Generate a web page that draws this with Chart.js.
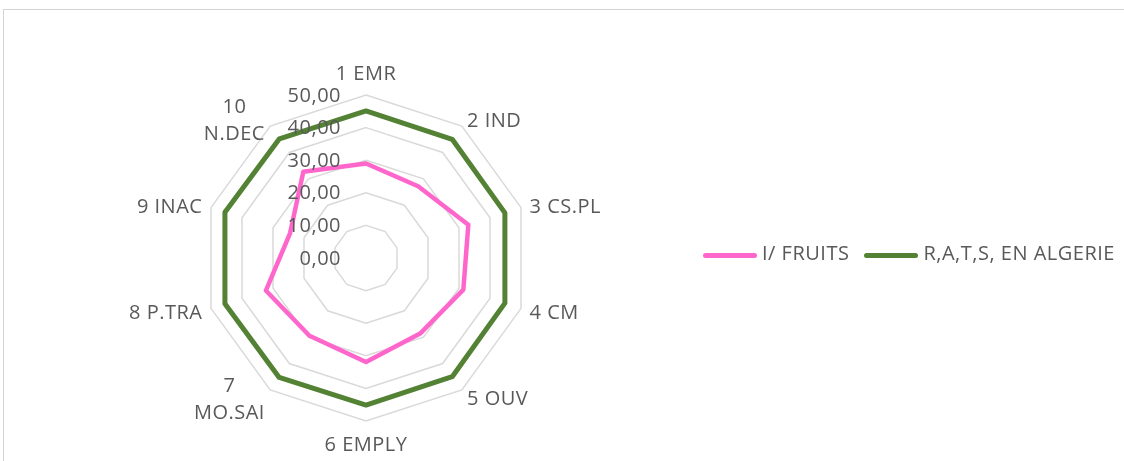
<!DOCTYPE html>
<html>
<head>
<meta charset="utf-8">
<script src="https://cdn.jsdelivr.net/npm/chart.js@4.4.1/dist/chart.umd.min.js"></script>
<style>
  html, body { margin: 0; padding: 0; background: #fff; overflow: hidden; }
  #wrap { position: relative; width: 1124px; height: 461px; }
  #frame { position: absolute; left: 3px; top: 9px; width: 1140px; height: 480px;
           border-left: 1px solid #d4d4d4; border-top: 1px solid #d4d4d4; }
  #chart { position: absolute; left: 0; top: 0; }
  #legend { position: absolute; left: 703px; top: 238px; height: 30px; display: flex; align-items: center;
            font: 20px 'Open Sans', sans-serif; letter-spacing: 0.5px; color: #595959; white-space: nowrap; line-height: 30px; }
  .item { display: flex; align-items: center; margin-right: 15px; }
  .swatch { width: 54px; height: 5px; border-radius: 3px; margin-right: 5px; position: relative; top: 2px; }
</style>
</head>
<body>
<div id="wrap">
  <div id="frame"></div>
  <canvas id="chart" width="1124" height="461"></canvas>
  <div id="legend"></div>
</div>
<script>
// Radar axes (socio-professional categories)
const categories = ['1 EMR', '2 IND', '3 CS.PL', '4 CM', '5 OUV', '6 EMPLY', ['7', 'MO.SAI'], '8 P.TRA', '9 INAC', ['10', 'N.DEC']];
// Series values (%)
const fruits  = [29.0, 27.2, 33.0, 31.4, 28.5, 31.9, 29.5, 32.3, 24.5, 32.7];
const algerie = [45.1, 45.0, 44.8, 44.8, 45.0, 45.1, 45.3, 45.5, 45.5, 45.2];
const seriesNames = ['I/ FRUITS', 'R,A,T,S, EN ALGERIE'];
// Radial scale ticks
const tickValues = [0, 10, 20, 30, 40, 50];
const tickLabels = ['0,00', '10,00', '20,00', '30,00', '40,00', '50,00'];

const TEXT = '#595959';
const FONT = "20px 'Open Sans', sans-serif";
const LINE_H = 27;
const PINK = '#ff66cc';
const GREEN = '#548235';

// Draws the value ticks (left of the vertical axis) and the category labels
const radarText = {
  id: 'radarText',
  afterDatasetsDraw(chart) {
    const s = chart.scales.r;
    const ctx = chart.ctx;
    ctx.save();
    ctx.font = FONT;
    ctx.fillStyle = TEXT;
    if ('letterSpacing' in ctx) ctx.letterSpacing = '0.5px';

    ctx.textAlign = 'right';
    ctx.textBaseline = 'alphabetic';
    tickValues.forEach((v, k) => {
      const p = s.getPointPositionForValue(0, v);
      ctx.fillText(tickLabels[k], s.xCenter - 25, p.y + 6.5);
    });

    const n = chart.data.labels.length;
    ctx.textAlign = 'center';
    chart.data.labels.forEach((lab, i) => {
      const lines = Array.isArray(lab) ? lab : [lab];
      const p = s.getPointPosition(i, s.drawingArea + 9);
      const w = Math.max(...lines.map(l => ctx.measureText(l).width));
      let cx, base0;
      if (i === 0) {
        cx = p.x; base0 = p.y - 6 - (lines.length - 1) * LINE_H;
      } else if (i * 2 === n) {
        cx = p.x; base0 = p.y + 21;
      } else {
        cx = i < n / 2 ? p.x + w / 2 : p.x - w / 2;
        base0 = p.y + 8 - (lines.length - 1) * LINE_H / 2;
      }
      lines.forEach((l, k) => ctx.fillText(l, cx, base0 + k * LINE_H));
    });
    ctx.restore();
  }
};

const chart = new Chart(document.getElementById('chart'), {
  type: 'radar',
  data: {
    labels: categories,
    datasets: [
      { label: seriesNames[0], data: fruits, borderColor: PINK, backgroundColor: PINK,
        borderWidth: 4.5, pointRadius: 0, pointHoverRadius: 0, fill: false, borderJoinStyle: 'round' },
      { label: seriesNames[1], data: algerie, borderColor: GREEN, backgroundColor: GREEN,
        borderWidth: 5, pointRadius: 0, pointHoverRadius: 0, fill: false, borderJoinStyle: 'round' }
    ]
  },
  options: {
    responsive: false,
    devicePixelRatio: 1,
    animation: false,
    events: [],
    layout: { padding: { left: 203, right: 595, top: 95, bottom: 40 } },
    plugins: { legend: { display: false }, tooltip: { enabled: false } },
    scales: {
      r: {
        min: 0, max: 50,
        ticks: { display: false, stepSize: 10 },
        pointLabels: { display: false },
        angleLines: { display: false },
        grid: { color: '#d9d9d9', lineWidth: 1.5 }
      }
    }
  },
  plugins: [radarText]
});

// Legend built from the chart's datasets
const legend = document.getElementById('legend');
chart.data.datasets.forEach(ds => {
  const item = document.createElement('div');
  item.className = 'item';
  const sw = document.createElement('span');
  sw.className = 'swatch';
  sw.style.background = ds.borderColor;
  const txt = document.createElement('span');
  txt.textContent = ds.label;
  item.appendChild(sw);
  item.appendChild(txt);
  legend.appendChild(item);
});
</script>
</body>
</html>
